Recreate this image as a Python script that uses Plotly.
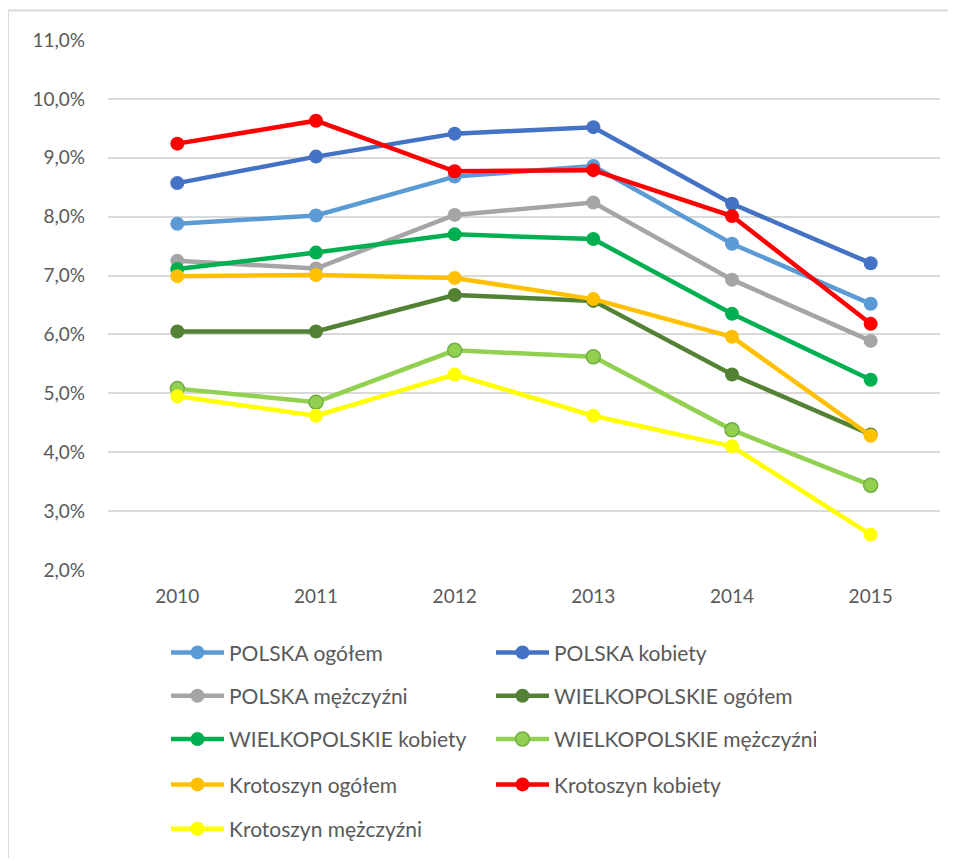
import plotly.graph_objects as go

years = ["2010", "2011", "2012", "2013", "2014", "2015"]

polska_ogolem = [7.88, 8.02, 8.68, 8.86, 7.54, 6.52]
polska_kobiety = [8.57, 9.02, 9.41, 9.52, 8.22, 7.21]
polska_mezczyzni = [7.25, 7.12, 8.03, 8.24, 6.93, 5.89]
wlkp_ogolem = [6.05, 6.05, 6.67, 6.57, 5.32, 4.30]
wlkp_kobiety = [7.11, 7.39, 7.70, 7.62, 6.35, 5.23]
wlkp_mezczyzni = [5.08, 4.85, 5.73, 5.62, 4.38, 3.44]
krot_ogolem = [6.99, 7.01, 6.96, 6.60, 5.96, 4.28]
krot_kobiety = [9.24, 9.63, 8.77, 8.79, 8.01, 6.18]
krot_mezczyzni = [4.95, 4.62, 5.32, 4.62, 4.10, 2.60]

series_names = [
    "POLSKA ogółem", "POLSKA kobiety", "POLSKA mężczyźni",
    "WIELKOPOLSKIE ogółem", "WIELKOPOLSKIE kobiety", "WIELKOPOLSKIE mężczyźni",
    "Krotoszyn ogółem", "Krotoszyn kobiety", "Krotoszyn mężczyźni",
]
series_values = [
    polska_ogolem, polska_kobiety, polska_mezczyzni,
    wlkp_ogolem, wlkp_kobiety, wlkp_mezczyzni,
    krot_ogolem, krot_kobiety, krot_mezczyzni,
]
colors = ["#5B9BD5", "#4472C4", "#A5A5A5", "#548235", "#00B050", "#92D050",
          "#FFC000", "#FF0000", "#FFFF00"]
marker_lines = [None, None, None, None, None, "#70AD47", None, None, None]
legend_ids = ["legend", "legend", "legend2", "legend2", "legend3", "legend3",
              "legend4", "legend4", "legend5"]

y_tickvals = [2, 3, 4, 5, 6, 7, 8, 9, 10, 11]
y_ticktext = ["2,0%", "3,0%", "4,0%", "5,0%", "6,0%", "7,0%", "8,0%", "9,0%", "10,0%", "11,0%"]

FONT = "Lato, 'Open Sans', sans-serif"
TXT = "#595959"

fig = go.Figure()
for name, vals, col, ml, lg in zip(series_names, series_values, colors, marker_lines, legend_ids):
    fig.add_trace(go.Scatter(
        x=years, y=vals, name=name, mode="lines+markers",
        line=dict(color=col, width=4.5),
        marker=dict(color=col, size=14,
                    line=dict(color=ml if ml else col, width=1.5 if ml else 0)),
        legend=lg,
    ))

OFF = 8  # page body margin
W, H = 956 - OFF, 861 - OFF
L, R, T, B = 108 - OFF, 16, 40 - OFF, 291 - OFF
plot_w = W - L - R
plot_h = H - T - B


def py(pix):
    return (H - B - (pix - OFF)) / plot_h


def px(pix):
    return ((pix - OFF) - L) / plot_w


legend_rows = [662, 706, 750, 796, 841]
legend_common = dict(orientation="h", xanchor="left", yanchor="middle",
                     x=px(166), entrywidth=257, entrywidthmode="pixels",
                     font=dict(family=FONT, size=21, color=TXT),
                     bgcolor="rgba(0,0,0,0)", itemwidth=53, traceorder="normal")

layout_legends = {}
for i, rowy in enumerate(legend_rows):
    key = "legend" if i == 0 else f"legend{i+1}"
    layout_legends[key] = dict(legend_common, y=py(rowy))

fig.update_layout(
    width=W, height=H,
    margin=dict(l=L, r=R, t=T, b=B),
    paper_bgcolor="white", plot_bgcolor="white",
    showlegend=True,
    font=dict(family=FONT, color=TXT),
    xaxis=dict(type="category", range=[-0.5, 5.5], showgrid=False, zeroline=False,
               showline=False, ticks="", tickfont=dict(size=19, color=TXT),
               ticklabelstandoff=13, fixedrange=True),
    yaxis=dict(range=[2, 11], tickvals=y_tickvals, ticktext=y_ticktext,
               showgrid=True, gridcolor="#D9D9D9", gridwidth=1.5, zeroline=False,
               showline=False, ticks="", tickfont=dict(size=19, color=TXT),
               ticklabelstandoff=22, fixedrange=True),
    shapes=[
        dict(type="line", xref="paper", yref="paper",
             x0=px(8), x1=px(960), y0=py(10), y1=py(10),
             line=dict(color="#D9D9D9", width=2)),
        dict(type="line", xref="paper", yref="paper",
             x0=px(8), x1=px(8), y0=py(10), y1=py(870),
             line=dict(color="#D9D9D9", width=2)),
    ],
    **layout_legends,
)

fig.write_html("out.html")
